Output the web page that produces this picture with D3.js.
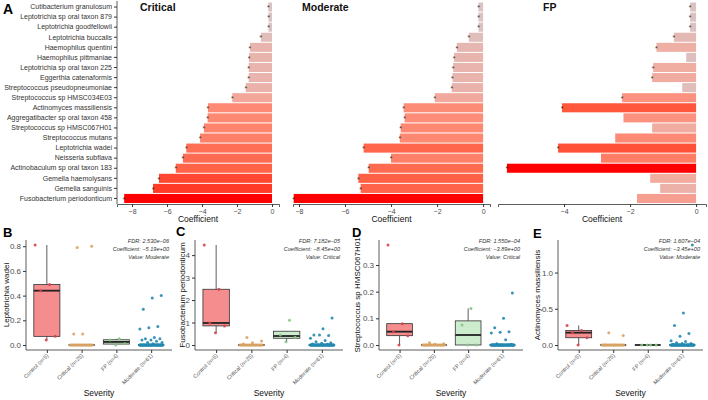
<!DOCTYPE html>
<html><head><meta charset="utf-8">
<script src="https://cdn.jsdelivr.net/npm/d3@7"></script>
<style>body{margin:0;background:#fff}svg{display:block;font-family:"Liberation Sans",Arial,sans-serif}</style>
</head><body><svg id="c" width="708" height="400"></svg>
<script>
// ---------------- Panel A data ----------------
const species = ["Cutibacterium granulosum","Leptotrichia sp oral taxon 879","Leptotrichia goodfellowii","Leptotrichia buccalis","Haemophilus quentini","Haemophilus pittmaniae","Leptotrichia sp oral taxon 225","Eggerthia catenaformis","Streptococcus pseudopneumoniae","Streptococcus sp HMSC034E03","Actinomyces massiliensis","Aggregatibacter sp oral taxon 458","Streptococcus sp HMSC067H01","Streptococcus mutans","Leptotrichia wadei","Neisseria subflava","Actinobaculum sp oral taxon 183","Gemella haemolysans","Gemella sanguinis","Fusobacterium periodonticum"];
const coefCritical = [-0.21,-0.2,-0.2,-0.63,-1.26,-1.31,-1.33,-1.33,-1.5,-2.27,-3.66,-3.68,-3.89,-4.11,-4.9,-5.09,-5.5,-6.46,-6.8,-8.45];
const coefModerate = [-0.2,-0.2,-0.2,-0.62,-1.14,-1.26,-1.3,-1.33,-1.36,-2.1,-3.45,-3.41,-3.58,-3.62,-5.19,-4.0,-4.97,-5.42,-5.32,-8.23];
const coefFP = [-0.18,-0.18,-0.18,-0.67,-1.2,-0.3,-1.3,-1.33,-0.42,-2.24,-4.06,-2.2,-1.33,-2.45,-4.18,-2.88,-5.73,-1.39,-1.09,-1.79];
const sigCritical = species.map(()=>1);
const sigModerate = species.map(()=>1);
const sigFP = [1,1,1,1,1,0,1,1,0,1,1,0,0,0,1,0,1,0,0,0];
const ticksCritical = [-8,-6,-4,-2,0];
const ticksModerate = [-8,-6,-4,-2,0];
const ticksFP = [-4,-2,0];

// ---------------- Bottom panels data ----------------
const groups = ["Control (n=5)","Critical (n=25)","FP (n=4)","Moderate (n=61)"];
const groupN = [5,25,4,61];
// non-zero readings; remaining samples of each group are zero
const B_control = [0.81,0.49,0.44,0.07,0.04];
const B_critical = [0.79,0.80,0.09,0.09];
const B_fp = [0.05,0.04,0.01,0.0];
const B_moderate = [0.40,0.38,0.29,0.15,0.14,0.13,0.06,0.05,0.05,0.04,0.04,0.03,0.02,0.02,0.01];
const C_control = [4.45,2.48,0.98,0.85,0.55];
const C_critical = [0.33,0.18,0.1,0.05];
const C_fp = [1.1,0.45,0.35,0.15];
const C_moderate = [1.2,0.72,0.45,0.42,0.45,0.3,0.2,0.15,0.1,0.08,0.05,0.03];
const D_control = [0.375,0.08,0.05,0.035,0.0];
const D_critical = [0.008,0.005,0.003];
const D_fp = [0.137,0.075,0.0,0.0];
const D_moderate = [0.195,0.1,0.065,0.05,0.048,0.045,0.02,0.005,0.003];
const E_control = [0.27,0.2,0.17,0.1,0.0];
const E_critical = [0.17,0.13];
const E_fp = [0,0,0,0];
const E_moderate = [1.38,0.44,0.27,0.16,0.12,0.06,0.05,0.03,0.02,0.02,0.01];
const B_ticks = [0,0.2,0.4,0.6,0.8], C_ticks = [0,1,2,3,4], D_ticks = [0,0.1,0.2,0.3], E_ticks = [0,0.5,1.0];

const svg = d3.select("#c");
const minus = s => s.replace(/-/g, "\u2212");

// ---------------- Panel A ----------------
const yA = d3.scaleBand().domain(species).range([2, 203.5]).paddingInner(0.1).paddingOuter(0.05);
const colorT = d3.scaleLinear().domain([0,0.25,0.45,0.7,1]).range(["#d8c6c6","#f2aa9e","#ff8670","#ff5a3e","#ff0000"]).interpolate(d3.interpolateRgb);
const barPanels = [
  {name:"Critical", vals:coefCritical, sig:sigCritical, x0:117, x1:279, dom:[-8.86,0.4], ticks:ticksCritical, tx:140},
  {name:"Moderate", vals:coefModerate, sig:sigModerate, x0:293, x1:490, dom:[-8.26,0.3], ticks:ticksModerate, tx:302},
  {name:"FP", vals:coefFP, sig:sigFP, x0:498, x1:706, dom:[-6.0,0.3], ticks:ticksFP, tx:543}
];
svg.append("text").attr("x",3).attr("y",14).attr("font-size",14).attr("font-weight","bold").text("A");
barPanels.forEach((p,pi)=>{
  const x = d3.scaleLinear().domain(p.dom).range([p.x0,p.x1]);
  const mn = d3.min(p.vals);
  const rows = p.vals.map((v,i)=>({v, sp:species[i], sig:p.sig[i]}));
  const g = svg.append("g");
  g.selectAll("rect").data(rows).join("rect")
    .attr("x", d=>x(d.v)).attr("width", d=>x(0)-x(d.v))
    .attr("y", d=>yA(d.sp)).attr("height", yA.bandwidth())
    .attr("fill", d=>colorT(d.v/mn));
  g.selectAll("text.star").data(rows.filter(d=>d.sig)).join("text").attr("class","star")
    .attr("x", d=>x(d.v)).attr("y", d=>yA(d.sp)+yA.bandwidth()/2+3.2)
    .attr("text-anchor","middle").attr("font-size",7).attr("fill","#333").text("*");
  const ax = g.append("g").attr("transform","translate(0,204)")
    .call(d3.axisBottom(x).tickValues(p.ticks).tickSize(3).tickPadding(2).tickFormat(d=>minus(String(d))));
  ax.select(".domain").attr("stroke","#333").attr("stroke-width",0.8);
  ax.selectAll(".tick line").attr("stroke","#333");
  ax.selectAll(".tick text").attr("font-size",7).attr("fill","#4d4d4d").attr("font-family","Liberation Sans, Arial, sans-serif");
  g.append("text").attr("x",(p.x0+p.x1)/2).attr("y",222).attr("text-anchor","middle").attr("font-size",8.5).attr("fill","#111").text("Coefficient");
  g.append("text").attr("x",p.tx).attr("y",11).attr("font-size",10.5).attr("font-weight","bold").attr("fill","#111").text(p.name);
  if(pi===0){
    const ay = g.append("g").attr("transform",`translate(${p.x0},0)`)
      .call(d3.axisLeft(yA).tickSize(3).tickPadding(2));
    ay.select(".domain").attr("d",`M0,1V204`).attr("stroke","#333").attr("stroke-width",0.8);
    ay.selectAll(".tick line").attr("stroke","#333");
    ay.selectAll(".tick text").attr("font-size",7).attr("fill","#333").attr("font-family","Liberation Sans, Arial, sans-serif");
  }
});

// ---------------- Bottom panels ----------------
const pointColors = ["#d8434b","#d9a366","#86c486","#2389b0"];
const boxFills = ["#f58c8e","#f5dcb8","#cdebcd","#b8dcec"];
function pad(vals, n){ return vals.concat(Array(Math.max(0,n-vals.length)).fill(0)); }

const boxPanels = [
  {label:"B", lx:3, ly:237, x0:26, x1:172, yt:"Leptotrichia wadei", ytx:8.5, ticks:B_ticks, fmt:d3.format(".1f"),
   data:[B_control,B_critical,B_fp,B_moderate], ann:["FDR: 2.530e\u221206","Coefficient: \u22125.19e+00","Value: Moderate"]},
  {label:"C", lx:176, ly:236, x0:195, x1:343, yt:"Fusobacterium periodonticum", ytx:185, ticks:C_ticks, fmt:d3.format("d"),
   data:[C_control,C_critical,C_fp,C_moderate], ann:["FDR: 7.182e\u221205","Coefficient: \u22128.45e+00","Value: Critical"]},
  {label:"D", lx:352, ly:237, x0:379, x1:523, yt:"Streptococcus sp HMSC067H01", ytx:360, ticks:D_ticks, fmt:d3.format(".1f"),
   data:[D_control,D_critical,D_fp,D_moderate], ann:["FDR: 1.550e\u221204","Coefficient: \u22123.89e+00","Value: Critical"]},
  {label:"E", lx:533, ly:238, x0:558, x1:703, yt:"Actinomyces massiliensis", ytx:540, ticks:E_ticks, fmt:d3.format(".1f"),
   data:[E_control,E_critical,E_fp,E_moderate], ann:["FDR: 1.607e\u221204","Coefficient: \u22123.45e+00","Value: Moderate"]}
];

boxPanels.forEach(p=>{
  const data = p.data.map((v,i)=>pad(v, groupN[i]));
  const mx = d3.max(data.flat());
  const y = d3.scaleLinear().domain([-0.05*mx, 1.05*mx]).range([350, 240]);
  const step = (p.x1-p.x0)/4.2;
  const x = d3.scalePoint().domain(groups).range([p.x0+0.6*step, p.x1-0.6*step]);
  const bw = 0.75*step;
  const g = svg.append("g");
  groups.forEach((grp,gi)=>{
    const vals = data[gi].slice().sort(d3.ascending);
    const q1 = d3.quantileSorted(vals,0.25), med = d3.quantileSorted(vals,0.5), q3 = d3.quantileSorted(vals,0.75);
    const iqr = q3-q1;
    const lo = d3.min(vals.filter(v=>v>=q1-1.5*iqr)), hi = d3.max(vals.filter(v=>v<=q3+1.5*iqr));
    const cx = x(grp);
    g.append("line").attr("x1",cx).attr("x2",cx).attr("y1",y(hi)).attr("y2",y(q3)).attr("stroke","#333").attr("stroke-width",0.8);
    g.append("line").attr("x1",cx).attr("x2",cx).attr("y1",y(q1)).attr("y2",y(lo)).attr("stroke","#333").attr("stroke-width",0.8);
    g.append("rect").attr("x",cx-bw/2).attr("width",bw).attr("y",y(q3)).attr("height",Math.max(0,y(q1)-y(q3)))
      .attr("fill",boxFills[gi]).attr("stroke","#333").attr("stroke-width",0.8);
    g.append("line").attr("x1",cx-bw/2).attr("x2",cx+bw/2).attr("y1",y(med)).attr("y2",y(med)).attr("stroke","#222").attr("stroke-width",1.8);
    // deterministic jitter
    g.selectAll(null).data(data[gi]).join("circle")
      .attr("cx",(d,i)=>cx+(((i*0.6180339+0.31*gi)%1)-0.5)*bw*0.9)
      .attr("cy",d=>y(d)).attr("r",1.5).attr("fill",pointColors[gi]).attr("opacity",0.9);
  });
  // axes
  const ay = g.append("g").attr("transform",`translate(${p.x0},0)`)
    .call(d3.axisLeft(y).tickValues(p.ticks).tickFormat(p.fmt).tickSize(3).tickPadding(2));
  ay.select(".domain").attr("d","M0,240V350").attr("stroke","#333").attr("stroke-width",0.8);
  ay.selectAll(".tick line").attr("stroke","#333");
  ay.selectAll(".tick text").attr("font-size",8).attr("fill","#4d4d4d").attr("font-family","Liberation Sans, Arial, sans-serif");
  const axb = g.append("g").attr("transform","translate(0,350)")
    .call(d3.axisBottom(x).tickSize(3).tickFormat(""));
  axb.select(".domain").attr("d",`M${p.x0},0H${p.x1}`).attr("stroke","#333").attr("stroke-width",0.8);
  axb.selectAll(".tick line").attr("stroke","#333");
  groups.forEach(grp=>{
    g.append("text").attr("transform",`translate(${x(grp)+2},356) rotate(-45)`).attr("text-anchor","end")
      .attr("font-size",5.5).attr("fill","#555").text(grp);
  });
  g.append("text").attr("x",(p.x0+p.x1)/2).attr("y",396).attr("text-anchor","middle").attr("font-size",8.5).attr("fill","#111").text("Severity");
  g.append("text").attr("transform",`translate(${p.ytx},295) rotate(-90)`).attr("text-anchor","middle").attr("font-size",8).attr("fill","#111").text(p.yt);
  p.ann.forEach((t,i)=>{
    g.append("text").attr("x",p.x1-3).attr("y",243+i*7.8).attr("text-anchor","end").attr("font-size",5.6)
      .attr("font-style","italic").attr("fill","#333").text(t);
  });
  svg.append("text").attr("x",p.lx).attr("y",p.ly).attr("font-size",13).attr("font-weight","bold").text(p.label);
});
</script></body></html>
